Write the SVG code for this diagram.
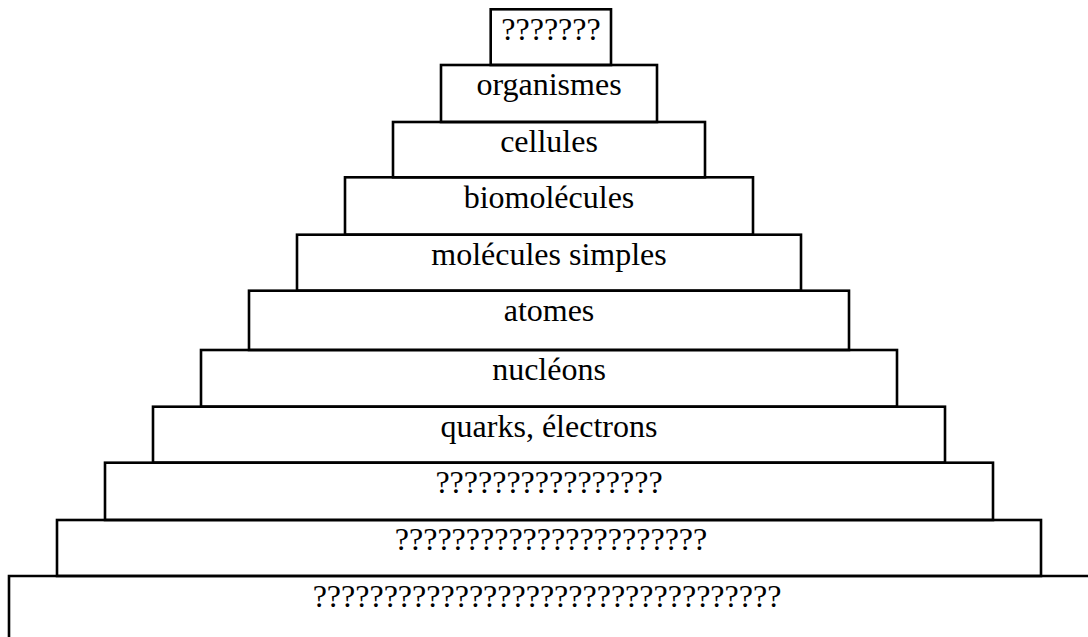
<svg xmlns="http://www.w3.org/2000/svg" width="1088" height="637" viewBox="0 0 1088 637">
<style>
.box{fill:none;stroke:#000;stroke-width:2.6}
.t{font-family:"Liberation Serif","Times New Roman",serif;font-size:32px;fill:#000;text-anchor:middle}
</style>
<rect width="1088" height="637" fill="#fff"/>
<g id="level11"><path class="box" d="M9,637 V576 H1090"/><text class="t" x="547" y="606.5">?????????????????????????????????</text></g>
<g id="level10"><rect class="box" x="57" y="520" width="984" height="56"/><text class="t" x="551" y="550">??????????????????????</text></g>
<g id="level9"><rect class="box" x="105" y="462.7" width="888" height="57.3"/><text class="t" x="549" y="493">????????????????</text></g>
<g id="level8"><rect class="box" x="153" y="406.7" width="792" height="56"/><text class="t" x="549" y="437">quarks, électrons</text></g>
<g id="level7"><rect class="box" x="201" y="350" width="696" height="56.7"/><text class="t" x="549" y="380">nucléons</text></g>
<g id="level6"><rect class="box" x="249" y="290.7" width="600" height="59.3"/><text class="t" x="549" y="321">atomes</text></g>
<g id="level5"><rect class="box" x="297" y="234.7" width="504" height="56"/><text class="t" x="549" y="265">molécules simples</text></g>
<g id="level4"><rect class="box" x="345" y="177.3" width="408" height="57.4"/><text class="t" x="549" y="208">biomolécules</text></g>
<g id="level3"><rect class="box" x="393" y="122" width="312" height="55.3"/><text class="t" x="549" y="152">cellules</text></g>
<g id="level2"><rect class="box" x="441" y="65" width="216" height="57"/><text class="t" x="549" y="95">organismes</text></g>
<g id="level1"><rect class="box" x="490.7" y="9.3" width="120.3" height="55.7"/><text class="t" x="551" y="39.5">???????</text></g>
</svg>
